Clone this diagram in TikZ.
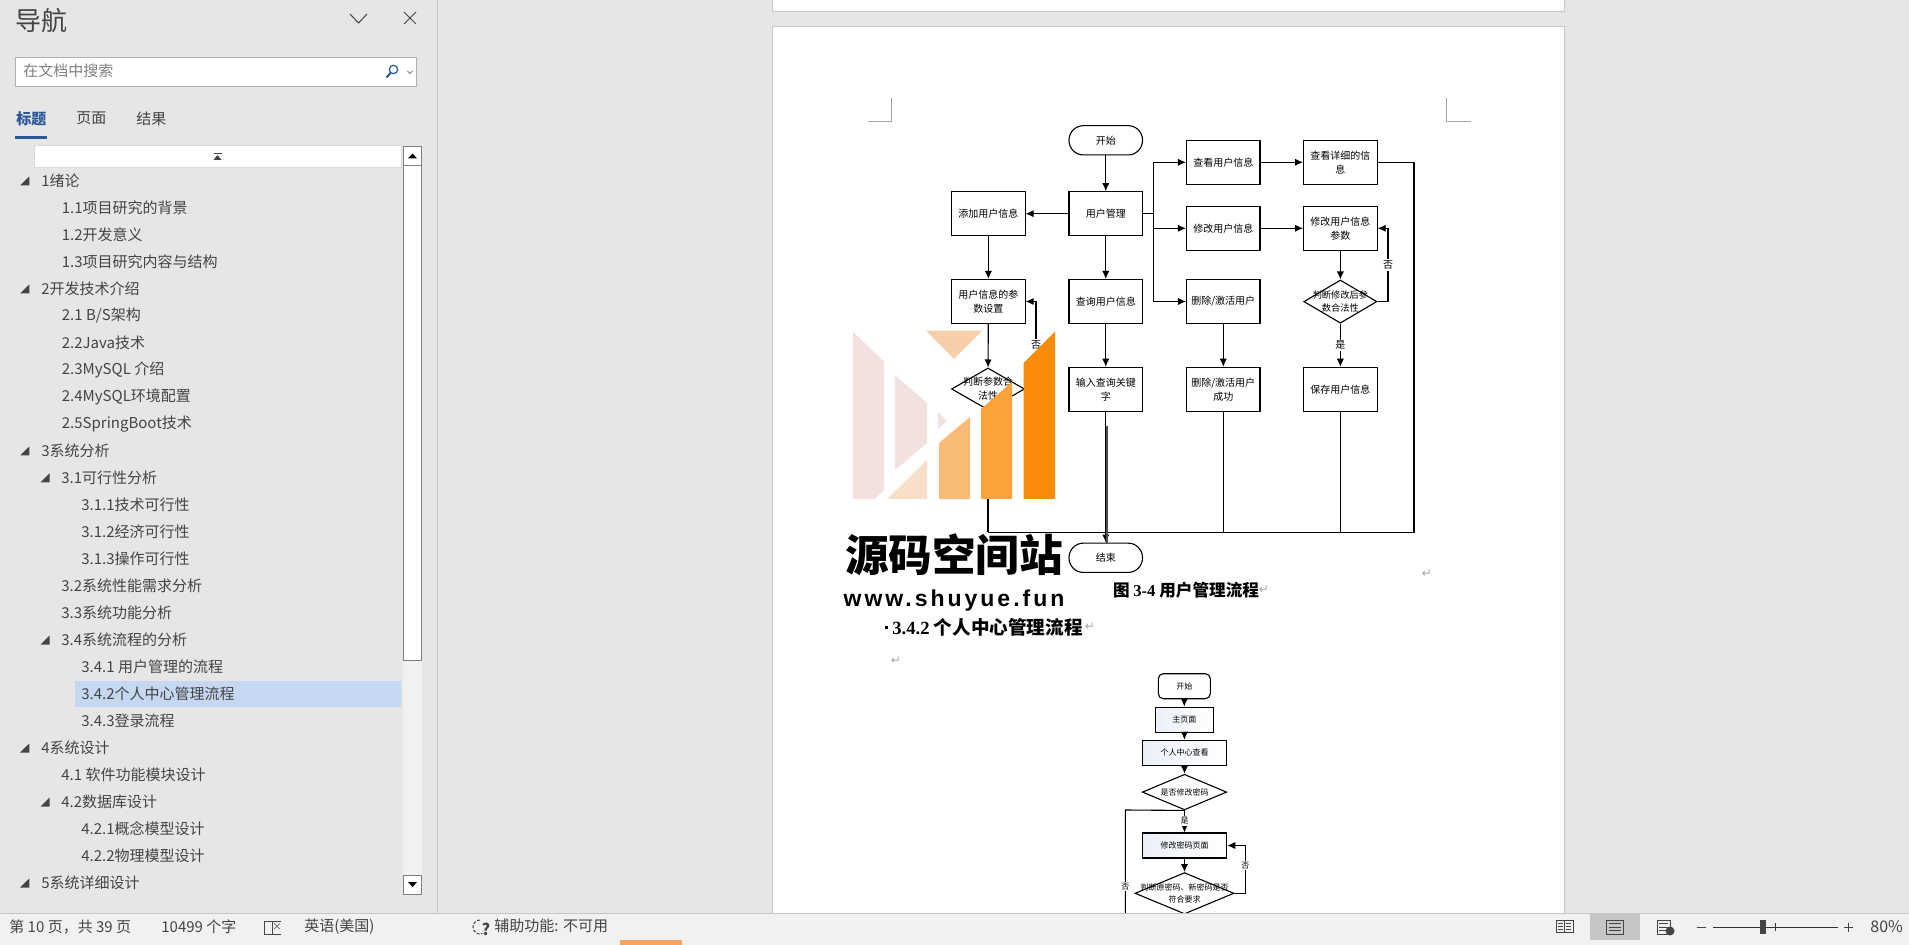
\documentclass[tikz,border=0pt]{standalone}
\usepackage{fontspec}
\usetikzlibrary{arrows.meta,shapes.geometric,calc}
\setmainfont{Noto Sans CJK SC}
\newfontfamily\lserif{Liberation Serif}
\newfontfamily\djfont{DejaVu Sans}
\newfontfamily\wmfont[LetterSpace=13]{Liberation Sans}
\newcommand{\fsz}[1]{\fontsize{#1}{#1}\selectfont}
\definecolor{bgg}{HTML}{E6E6E6}
\definecolor{barg}{HTML}{F1F1F1}
\definecolor{lineg}{HTML}{C6C6C6}
\definecolor{wblue}{HTML}{2B579A}
\definecolor{txtg}{HTML}{444444}
\definecolor{EAEFF8}{HTML}{EAEFF8}
\definecolor{F2E1DF}{HTML}{F2E1DF}
\definecolor{F8DFC9}{HTML}{F8DFC9}
\definecolor{F6CFA8}{HTML}{F6CFA8}
\definecolor{F9B977}{HTML}{F9B977}
\definecolor{FBA33A}{HTML}{FBA33A}
\definecolor{F98C0A}{HTML}{F98C0A}
\definecolor{F4A460}{HTML}{F4A460}
\definecolor{C5D7F1}{HTML}{C5D7F1}
\tikzset{
  x=.5pt,y=-.5pt,
  fbox/.style={draw=black,line width=.55pt,fill=white,minimum width=36.75pt,minimum height=22pt,inner sep=0pt,align=center,font=\fontsize{5}{7}\selectfont},
  fpill/.style={fbox,minimum height=14.65pt,rounded corners=7.2pt},
  fdia/.style={draw=black,line width=.55pt,fill=white,diamond,aspect=1.7,inner sep=0pt},
  ftxt/.style={inner sep=0pt,align=center,font=\fontsize{4.6}{6.6}\selectfont},
  arr/.style={line width=.55pt,-{Latex[length=4pt,width=3.6pt]}},
  conn/.style={line width=.55pt},
  ylab/.style={fill=white,inner sep=.6pt,font=\fontsize{5}{5}\selectfont},
  sbox/.style={draw=black,line width=.55pt,left color=EAEFF8,right color=white,inner sep=0pt,minimum height=12.5pt,font=\fontsize{4}{4}\selectfont},
  sdia/.style={draw=black,line width=.55pt,fill=white,diamond,aspect=2.3,inner sep=0pt},
  stxt/.style={inner sep=0pt,align=center,font=\fontsize{4}{6}\selectfont},
  slab/.style={fill=white,inner sep=.5pt,font=\fontsize{4}{4}\selectfont},
  rowt/.style={anchor=west,inner sep=0pt,text=txtg,font=\fsz{7.5}},
  sbt/.style={anchor=west,inner sep=0pt,text=txtg,font=\fsz{7.5}},
  retm/.style={inner sep=0pt,text=gray!70,font=\djfont\fsz{6}},
  crop/.style={line width=.4pt,draw=gray!70},
  tri/.style={fill=txtg,draw=none},
}
\begin{document}
\begin{tikzpicture}
\useasboundingbox (0,0) rectangle (1909,945);
% window background
\fill[bgg] (0,0) rectangle (1909,945);
% pages
\draw[lineg,fill=white,line width=.5pt] (772.5,-5) rectangle (1564,12);
\draw[lineg,fill=white,line width=.5pt] (772.5,27) rectangle (1564,930);
% crop marks
\draw[crop] (867.8,121.3) -- (891.4,121.3) -- (891.4,98.3);
\draw[crop] (1470.6,121.3) -- (1446.5,121.3) -- (1446.5,98.3);

% --- flow chart 1 ---
\node[fpill] (start) at (1105.75,140.3) {开始};
\node[fbox] (umg) at (1105.75,213.7) {用户管理};
\node[fbox] (add) at (988.35,213.7) {添加用户信息};
\node[fbox] (view) at (1223.25,162.3) {查看用户信息};
\node[fbox] (detail) at (1340.35,162.3) {查看详细的信\\息};
\node[fbox] (edit) at (1223.25,228.3) {修改用户信息};
\node[fbox] (param) at (1340.35,228.3) {修改用户信息\\参数};
\node[fbox] (del) at (1223.25,301.5) {删除/激活用户};
\node[fbox] (query) at (1105.75,301.5) {查询用户信息};
\node[fbox] (setp) at (988.35,301.5) {用户信息的参\\数设置};
\node[fbox] (key) at (1105.75,389.3) {输入查询关键\\字};
\node[fbox] (dels) at (1223.25,389.3) {删除/激活用户\\成功};
\node[fbox] (save) at (1340.35,389.3) {保存用户信息};
\node[fdia,minimum width=36.5pt,minimum height=21pt] (d1) at (988,389) {};
\node[ftxt,font=\fontsize{5}{7}\selectfont] (d1t) at (988,389) {判断参数合\\法性};
\node[fdia,minimum width=36.6pt,minimum height=21.6pt] (d2) at (1340.35,301.6) {};
\node[ftxt] (d2t) at (1340.35,301.6) {判断修改后参\\数合法性};
\node[fpill] (end) at (1105.75,557.8) {结束};

\coordinate (br) at (1153.5,213.7);
\coordinate (bus) at (1414,532.3);
\coordinate (lp) at (1036,389);
\coordinate (rp) at (1388,301.6);
\coordinate (dbl) at (1107,426);

\draw[arr] (start) -- (umg);
\draw[arr] (umg) -- (add);
\draw[arr] (umg) -- (query);
\draw[arr] (query) -- (key);
\draw[arr] (add) -- (setp);
\draw[arr] (setp) -- (d1);
\draw[conn] (umg.east) -- (br);
\draw[arr] (br) |- (view);
\draw[arr] (br) |- (edit);
\draw[arr] (br) |- (del);
\draw[arr] (view) -- (detail);
\draw[arr] (edit) -- (param);
\draw[arr] (param) -- (d2);
\draw[arr] (del) -- (dels);
\draw[arr] (d2) -- (save) node[midway,ylab] (yes1) {是};
\draw[arr] (d2.east) -- (rp) |- (param.east);
\node[ylab] (no1) at (1388,265) {否};
\draw[arr] (d1.east) -- (lp) |- (setp.east);
\node[ylab] (no2) at (1036,345) {否};
\draw[conn] (detail.east) -| (bus) -- (bus -| d1);
\draw[conn] (d1) -- (d1 |- bus);
\draw[conn] (dels) -- (dels |- bus);
\draw[conn] (save) -- (save |- bus);
\draw[arr] (key) -- (end);
\draw[conn,black!70] (dbl) -- (dbl |- end.north);

% watermark
\fill[F2E1DF] (853,331.7) -- (884,361.7) -- (884,490) -- (875,499) -- (853,499) -- cycle;
\fill[F2E1DF] (895,375) -- (927,403) -- (927,443) -- (895,470) -- cycle;
\fill[F2E1DF] (938,412) -- (947,421) -- (938,429) -- cycle;
\fill[F8DFC9] (887,499) -- (927,460) -- (927,499) -- cycle;
\fill[F6CFA8] (926,330.7) -- (982,330.7) -- (954,359) -- cycle;
\fill[F9B977] (939,443) -- (970,417) -- (970,499) -- (939,499) -- cycle;
\fill[FBA33A] (981,409) -- (1012,382) -- (1012,499) -- (981,499) -- cycle;
\fill[F98C0A] (1023.7,363) -- (1055,331.7) -- (1055,499) -- (1023.7,499) -- cycle;
\node[inner sep=0pt,font=\bfseries\fsz{21.8}] (wm1) at (954,555) {源码空间站};
\node[inner sep=0pt,font=\wmfont\bfseries\fsz{11.5}] (wm2) at (954,601) {www.shuyue.fun};

% captions
\node[anchor=west,inner sep=0pt,font=\bfseries\fsz{8.3}] (cap1) at (1112.6,590) {图 {\lserif\bfseries 3-4} 用户管理流程};
\node[retm] (r1) at (1264,590) {↵};
\node[retm] (r2) at (1427,574) {↵};
\fill[black] (885,625.5) rectangle (888,628.5);
\node[anchor=west,inner sep=0pt,font=\bfseries\fsz{9.3}] (sec) at (892,627) {{\lserif\bfseries 3.4.2} 个人中心管理流程};
\node[retm] (r3) at (1090,627) {↵};
\node[retm] (r4) at (896,661) {↵};

% --- flow chart 2 ---
\node[fbox,minimum width=26pt,minimum height=12.5pt,rounded corners=2.5pt,font=\fontsize{4}{4}\selectfont] (s1) at (1184.3,686.2) {开始};
\node[sbox,minimum width=29pt] (s2) at (1184.3,719.6) {主页面};
\node[sbox,minimum width=42.2pt] (s3) at (1184.5,752.8) {个人中心查看};
\node[sdia,minimum width=42.2pt,minimum height=17.8pt] (s4) at (1184.5,792.1) {};
\node[stxt] (s4t) at (1184.5,792.1) {是否修改密码};
\node[sbox,minimum width=42.2pt] (s5) at (1184.5,845.5) {修改密码页面};
\node[sdia,minimum width=49.5pt,minimum height=20.7pt] (s6) at (1184.5,893.3) {};
\node[stxt] (s6t) at (1184.5,893.3) {判断原密码、新密码是否\\符合要求};

\coordinate (snl) at (1125.3,810);
\coordinate (snb) at (1125.3,925);
\coordinate (srp) at (1245.3,893.3);
\draw[arr] (s1) -- (s2);
\draw[arr] (s2) -- (s3);
\draw[arr] (s3) -- (s4);
\draw[arr] (s4) -- (s5);
\node[slab] (syes) at (1184.5,821) {是};
\draw[arr] (s5) -- (s6);
\draw[conn] (s4.south) -- (snl) -- (snb);
\node[slab] (sno1) at (1125.3,886.3) {否};
\draw[arr] (s6.east) -- (srp) |- (s5.east);
\node[slab] (sno2) at (1245.3,865.3) {否};

% --- status bar ---
\fill[barg] (0,913) rectangle (1909,945);
\draw[lineg,line width=.5pt] (0,913) -- (1909,913);
\fill[F4A460] (620,940) rectangle (682,945);
\node[sbt] (st1) at (9,927) {第 10 页，共 39 页};
\node[sbt] (st2) at (161,927) {10499 个字};
\draw[txtg,line width=.4pt] (264,921) rectangle (272,934);
\draw[txtg,line width=.4pt] (272,921) -- (281,921) (272,934) -- (281,934);
\node[inner sep=0pt,text=txtg,font=\fsz{5}] (st3) at (277,927.5) {×};
\node[sbt] (st4) at (304,927) {英语(美国)};
\draw[txtg,line width=.5pt,dash pattern=on 1.5pt off .8pt] (480,920) arc[start angle=-90,end angle=-290,radius=7];
\node[inner sep=0pt,text=txtg,font=\bfseries\fsz{8}] (st5) at (486,929) {?};
\node[sbt] (st6) at (494,926) {辅助功能: 不可用};
% view icons
\draw[txtg,line width=.4pt] (1556,920) rectangle (1564.5,932) (1564.5,920) rectangle (1573,932);
\foreach \yy in {923,926,929}{\draw[txtg,line width=.3pt] (1558,\yy) -- (1563,\yy) (1566,\yy) -- (1571,\yy);}
\fill[lineg] (1590,913.5) rectangle (1640,940);
\draw[txtg,line width=.4pt] (1606.5,920) rectangle (1623,934);
\foreach \yy in {923.5,927,930.5}{\draw[txtg,line width=.3pt] (1608.5,\yy) -- (1621,\yy);}
\draw[txtg,line width=.4pt] (1657,920) rectangle (1670,934);
\foreach \yy in {923.5,927,930.5}{\draw[txtg,line width=.3pt] (1659,\yy) -- (1668,\yy);}
\fill[txtg] (1670,931) circle[radius=4.5];
% zoom slider
\draw[txtg,line width=.5pt] (1697,927) -- (1706,927);
\draw[black!80,line width=.5pt] (1713,927) -- (1838,927);
\draw[black!80,line width=.4pt] (1775,923) -- (1775,931);
\fill[txtg] (1760,920) rectangle (1766,934);
\draw[txtg,line width=.5pt] (1844,927) -- (1853,927) (1848.5,922.5) -- (1848.5,931.5);
\node[anchor=west,inner sep=0pt,text=txtg,font=\fsz{8}] (zm) at (1870,927) {80\%};

% --- navigation panel ---
\draw[lineg,line width=.5pt] (437,0) -- (437,913);
\node[anchor=west,inner sep=0pt,text=txtg,font=\fsz{13}] (navt) at (15,21) {导航};
\draw[txtg,line width=.5pt] (350,14) -- (358.5,23) -- (367,14);
\draw[txtg,line width=.5pt] (404,12) -- (416,24) (416,12) -- (404,24);
\node[draw=black!30,fill=white,line width=.5pt,anchor=north west,minimum width=200.3pt,minimum height=14.5pt,inner sep=0pt] (search) at (15,57.5) {};
\node[anchor=west,inner sep=0pt,text=gray,font=\fsz{7.5}] (searcht) at (23,71) {在文档中搜索};
\draw[wblue,line width=.6pt] (393.5,69.5) circle[radius=4.2];
\draw[wblue,line width=1pt] (390.5,73) -- (386.5,77.5);
\draw[txtg,line width=.3pt] (407.5,71) -- (410,73.5) -- (412.5,71);
\node[anchor=west,inner sep=0pt,text=wblue,font=\bfseries\fsz{7.5}] (tab1) at (16,118.5) {标题};
\node[anchor=west,inner sep=0pt,text=txtg,font=\fsz{7.5}] (tab2) at (76,118.5) {页面};
\node[anchor=west,inner sep=0pt,text=txtg,font=\fsz{7.5}] (tab3) at (136,118.5) {结果};
\fill[wblue] (15,136) rectangle (47,139.5);
% collapse row
\draw[black!15,fill=white,line width=.4pt] (34.5,145.5) rectangle (401.5,167);
\fill[txtg] (213.5,160) -- (221.5,160) -- (217.5,155) -- cycle;
\draw[txtg,line width=.4pt] (213.5,153.5) -- (221.5,153.5);
% scroll bar
\fill[barg] (403,147) rectangle (421.5,894);
\draw[black!50,fill=white,line width=.5pt] (403.5,147) rectangle (421.5,166);
\draw[black!50,fill=white,line width=.5pt] (403.5,166) rectangle (421.5,660);
\draw[black!50,fill=white,line width=.5pt] (403.5,875) rectangle (421.5,894);
\fill[black] (408,158.5) -- (417,158.5) -- (412.5,153.5) -- cycle;
\fill[black] (408,882) -- (417,882) -- (412.5,887) -- cycle;
% highlight
\fill[C5D7F1] (75,680.7) rectangle (400.5,707);
% rows
\foreach \i/\xx/\t in {
0/41/{1绪论}, 1/61.5/{1.1项目研究的背景}, 2/61.5/{1.2开发意义}, 3/61.5/{1.3项目研究内容与结构},
4/41/{2开发技术介绍}, 5/61.5/{2.1 B/S架构}, 6/61.5/{2.2Java技术}, 7/61.5/{2.3MySQL 介绍},
8/61.5/{2.4MySQL环境配置}, 9/61.5/{2.5SpringBoot技术}, 10/41/{3系统分析}, 11/61/{3.1可行性分析},
12/81/{3.1.1技术可行性}, 13/81/{3.1.2经济可行性}, 14/81/{3.1.3操作可行性},
15/61/{3.2系统性能需求分析}, 16/61/{3.3系统功能分析}, 17/61/{3.4系统流程的分析},
18/81/{3.4.1 用户管理的流程}, 19/81/{3.4.2个人中心管理流程}, 20/81/{3.4.3登录流程},
21/41/{4系统设计}, 22/61/{4.1 软件功能模块设计}, 23/61/{4.2数据库设计},
24/81/{4.2.1概念模型设计}, 25/81/{4.2.2物理模型设计}, 26/41/{5系统详细设计}}{
  \node[rowt] (row\i) at (\xx,{180.8+27*\i}) {\t};
}
\foreach \i in {0,4,10,21,26}{
  \fill[tri] (29.3,{176.5+27*\i}) -- (29.3,{185.5+27*\i}) -- (20,{185.5+27*\i}) -- cycle;
}
\foreach \i in {11,17,23}{
  \fill[tri] (49.5,{176.5+27*\i}) -- (49.5,{185.5+27*\i}) -- (40.5,{185.5+27*\i}) -- cycle;
}
\end{tikzpicture}
\end{document}
